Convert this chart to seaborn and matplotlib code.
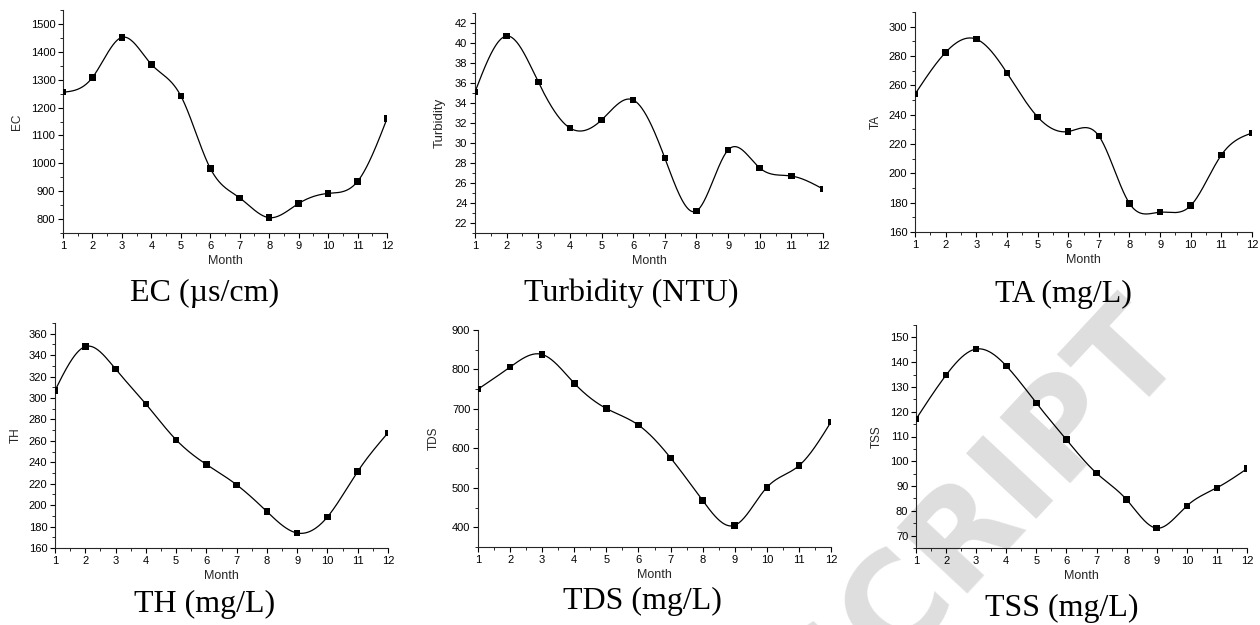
import numpy as np
import pandas as pd
import matplotlib
matplotlib.use("Agg")
import matplotlib.pyplot as plt
from matplotlib.ticker import MultipleLocator, AutoMinorLocator
import seaborn as sns

# ---------------- data ----------------
months = [1, 2, 3, 4, 5, 6, 7, 8, 9, 10, 11, 12]
ec = [1255, 1308, 1452, 1355, 1242, 982, 876, 805, 856, 892, 935, 1160]
turbidity = [35.1, 40.7, 36.1, 31.5, 32.3, 34.3, 28.5, 23.2, 29.3, 27.5, 26.7, 25.4]
ta = [254, 282.5, 291.5, 268.5, 238.5, 228.5, 225.5, 179.5, 173.5, 178, 212.5, 227.5]
th = [307, 348, 327, 294.5, 261, 238, 219, 194, 174, 189, 231.5, 267.5]
tds = [750, 806, 838, 765, 701, 659, 576, 468, 405, 501, 556, 667]
tss = [117, 134.8, 145.3, 138.5, 123.5, 108.7, 95.2, 84.5, 73, 82, 89.3, 97]

ylabels = ["EC", "Turbidity", "TA", "TH", "TDS", "TSS"]
titles = ["EC (\u00b5s/cm)", "Turbidity (NTU)", "TA (mg/L)",
          "TH (mg/L)", "TDS (mg/L)", "TSS (mg/L)"]
series = [ec, turbidity, ta, th, tds, tss]
watermark = "MANUSCRIPT"

# ---------------- style ----------------
sns.set_theme(style="ticks")
plt.rcParams["font.family"] = ["Liberation Sans", "DejaVu Sans"]
plt.rcParams["axes.linewidth"] = 0.8

W, H = 1260, 625
fig = plt.figure(figsize=(W / 100, H / 100), dpi=100)
fig.patch.set_facecolor("white")

# axes boxes in pixels: left, right, top, bottom
boxes = [(63, 387, 10, 233), (475, 823, 13, 233), (915, 1252, 12, 232),
         (55, 388, 323, 548), (478, 831, 330, 547), (916, 1247, 325, 548)]
ylims = [(750, 1550), (21, 43), (160, 310), (160, 370), (350, 900), (65, 155)]
ysteps = [100, 2, 20, 20, 100, 10]
ylabel_right = [23, 446, 882, 22, 440, 883]
ylabel_size = [8.5, 9.5, 8.5, 8.5, 8.5, 8.5]
title_pos = [(205, 301), (631, 301), (1063, 302), (205, 612), (642, 609), (1062, 616)]


def natural_spline(x, y, n=600):
    x = np.asarray(x, float)
    y = np.asarray(y, float)
    m = len(x)
    h = np.diff(x)
    A = np.zeros((m, m))
    r = np.zeros(m)
    A[0, 0] = 1
    A[-1, -1] = 1
    for i in range(1, m - 1):
        A[i, i - 1] = h[i - 1]
        A[i, i] = 2 * (h[i - 1] + h[i])
        A[i, i + 1] = h[i]
        r[i] = 3 * ((y[i + 1] - y[i]) / h[i] - (y[i] - y[i - 1]) / h[i - 1])
    c = np.linalg.solve(A, r)
    b = (y[1:] - y[:-1]) / h - h * (2 * c[:-1] + c[1:]) / 3
    d = (c[1:] - c[:-1]) / (3 * h)
    xs = np.linspace(x[0], x[-1], n)
    idx = np.clip(np.searchsorted(x, xs, side="right") - 1, 0, m - 2)
    dx = xs - x[idx]
    ys = y[idx] + b[idx] * dx + c[idx] * dx ** 2 + d[idx] * dx ** 3
    return xs, ys


# watermark (behind the panels)
fig.text(1186 / W, 1 - 345 / H, watermark, rotation=47, rotation_mode="anchor",
         ha="right", va="baseline", fontsize=95, fontweight="bold",
         color="#dedede", family="DejaVu Sans", zorder=-5)

for k in range(6):
    l, r, t, b = boxes[k]
    ax = fig.add_axes([l / W, 1 - b / H, (r - l) / W, (b - t) / H])
    ax.set_facecolor("none")
    df = pd.DataFrame({"Month": months, "val": series[k]})
    xs, ys = natural_spline(df["Month"], df["val"])
    sns.lineplot(x=xs, y=ys, ax=ax, color="black", linewidth=0.9, zorder=2)
    sns.scatterplot(data=df, x="Month", y="val", ax=ax, marker="s", s=22,
                    color="black", edgecolor="none", zorder=3)
    ax.set_xlim(1, 12)
    ax.set_ylim(*ylims[k])
    ax.xaxis.set_major_locator(MultipleLocator(1))
    ax.xaxis.set_minor_locator(AutoMinorLocator(2))
    ax.yaxis.set_major_locator(MultipleLocator(ysteps[k]))
    ax.yaxis.set_minor_locator(AutoMinorLocator(2))
    ax.tick_params(which="major", direction="out", length=3.5, width=0.8,
                   labelsize=8, pad=2, colors="black")
    ax.tick_params(which="minor", direction="out", length=2, width=0.7)
    for sp in ["top", "right"]:
        ax.spines[sp].set_visible(False)
    ax.set_xlabel("Month", fontsize=9, labelpad=3)
    ax.set_ylabel(ylabels[k], fontsize=ylabel_size[k])
    ax.yaxis.set_label_coords((ylabel_right[k] - l) / (r - l), 0.5)
    tx, ty = title_pos[k]
    fig.text(tx / W, 1 - ty / H, titles[k], ha="center", va="baseline",
             fontsize=23, family=["Liberation Serif", "DejaVu Serif"], color="black")

fig.savefig("out.png", dpi=100, facecolor="white")
